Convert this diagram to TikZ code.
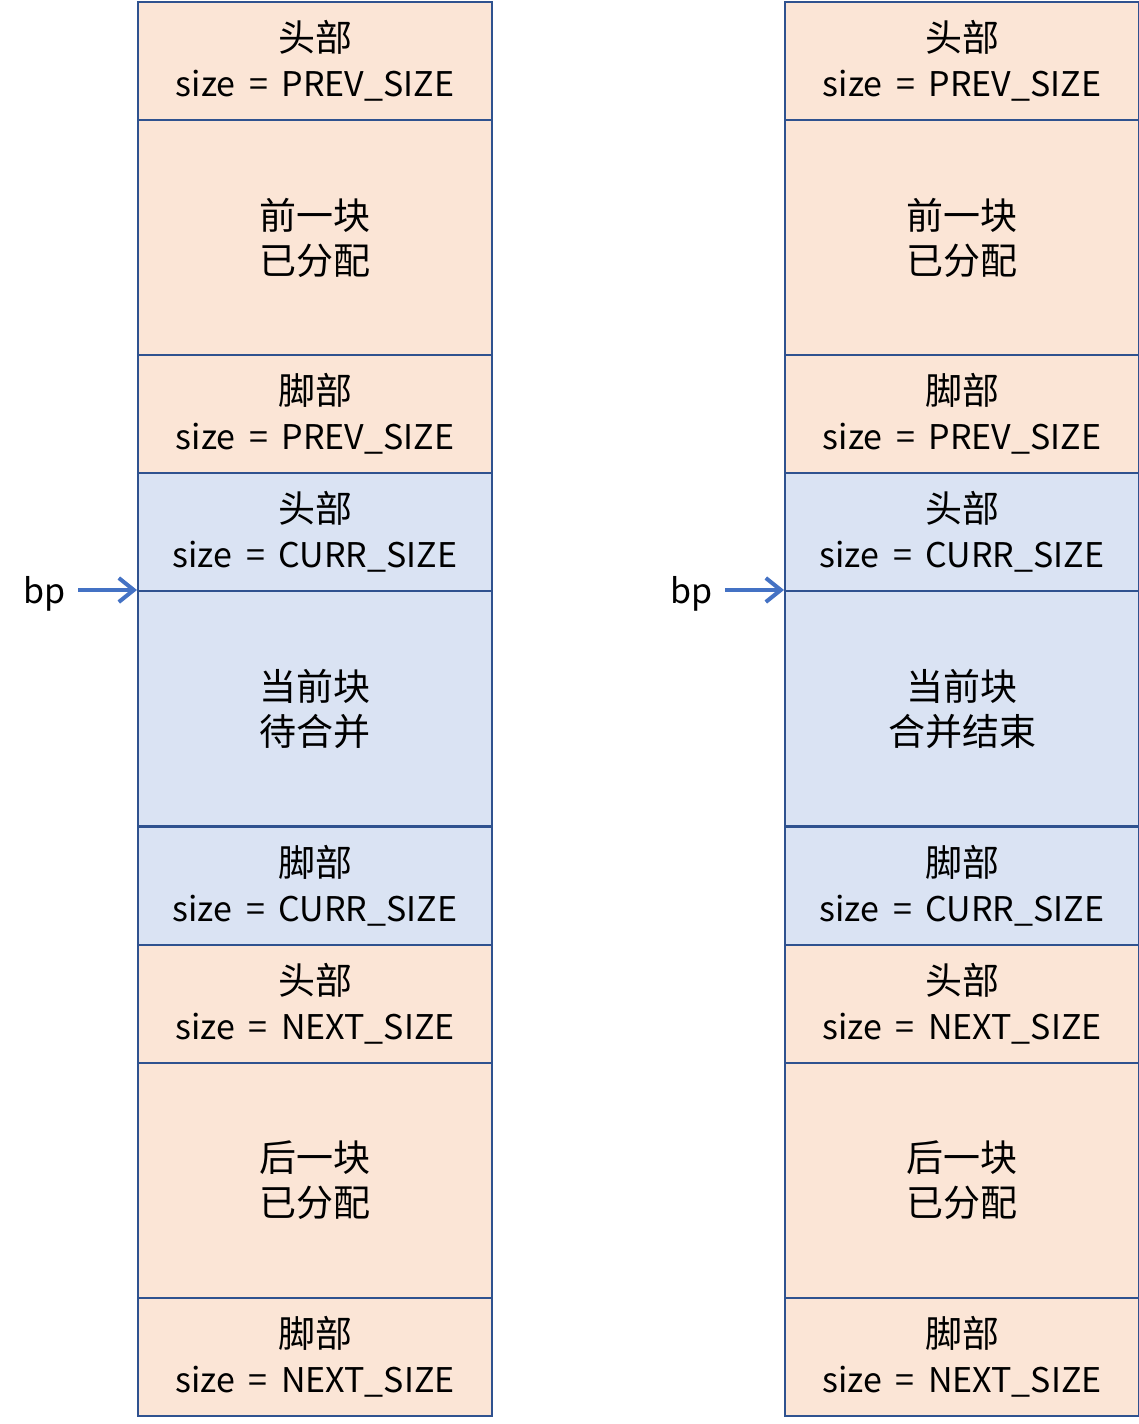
\documentclass[tikz,border=0pt]{standalone}
\usepackage{fontspec}
\setmainfont{Noto Sans CJK SC}
\usetikzlibrary{arrows.meta}
\definecolor{orfill}{HTML}{FBE5D6}
\definecolor{blfill}{HTML}{DAE3F3}
\definecolor{edge}{HTML}{2F528F}
\definecolor{arr}{HTML}{4472C4}
\newcommand{\cj}[1]{{\fontsize{37}{45}\selectfont #1}}
\newcommand{\sz}[1]{size\hspace{6pt} = \hspace{6pt}#1}
\tikzset{
  cell/.style={draw=edge, line width=2pt, minimum width=354pt, inner sep=0pt, align=center,
     font=\fontsize{34}{45}\selectfont, anchor=north west},
  small/.style={cell, minimum height=118pt},
  big/.style={cell, minimum height=235pt},
  org/.style={fill=orfill},
  blu/.style={fill=blfill},
  ptr/.style={draw=arr, line width=4pt, -{Straight Barb[length=15pt,width=24pt,line width=4pt]}},
}
\begin{document}
\begin{tikzpicture}[x=1pt,y=1pt]
\useasboundingbox (0,0) rectangle (1139,-1424);
\foreach \c/\x/\m in {L/137/待合并, R/784/合并结束}{
  \node[small,org] (\c1) at (\x,-1) {\cj{头部}\\\sz{PREV\_SIZE}};
  \node[big,org]   (\c2) at (\x,-119) {\cj{前一块}\\\cj{已分配}};
  \node[small,org] (\c3) at (\x,-354) {\cj{脚部}\\\sz{PREV\_SIZE}};
  \node[small,blu] (\c4) at (\x,-472) {\cj{头部}\\\sz{CURR\_SIZE}};
  \node[big,blu]   (\c5) at (\x,-590) {\cj{当前块}\\\cj{\m}};
  \node[small,blu] (\c6) at (\x,-826) {\cj{脚部}\\\sz{CURR\_SIZE}};
  \node[small,org] (\c7) at (\x,-944) {\cj{头部}\\\sz{NEXT\_SIZE}};
  \node[big,org]   (\c8) at (\x,-1062) {\cj{后一块}\\\cj{已分配}};
  \node[small,org] (\c9) at (\x,-1297) {\cj{脚部}\\\sz{NEXT\_SIZE}};
}
\node[font=\fontsize{34}{40}\selectfont, anchor=center] (bpL) at (45,-594) {bp};
\node[font=\fontsize{34}{40}\selectfont, anchor=center] (bpR) at (692,-594) {bp};
\coordinate (sL) at (78,-590);
\coordinate (sR) at (725,-590);
\draw[ptr] (sL) -- (L5.north west);
\draw[ptr] (sR) -- (R5.north west);
\end{tikzpicture}
\end{document}
